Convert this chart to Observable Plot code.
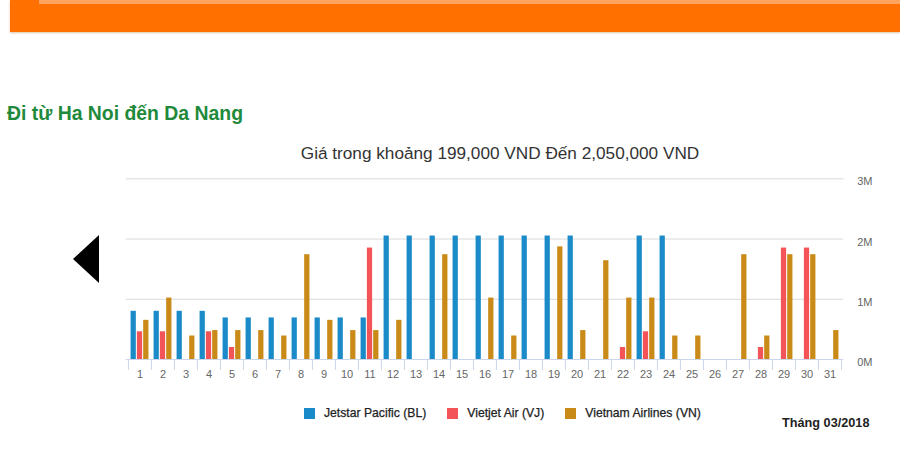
<!DOCTYPE html>
<html>
<head>
<meta charset="utf-8">
<script src="https://cdn.jsdelivr.net/npm/d3@7"></script>
<script src="https://cdn.jsdelivr.net/npm/@observablehq/plot@0.6"></script>
<style>
  html, body { margin: 0; padding: 0; }
  body { width: 900px; height: 471px; position: relative; overflow: hidden; background: #fff; font-family: "Liberation Sans", Arial, sans-serif; }
  #banner { position: absolute; left: 10px; top: 0; width: 890px; height: 32px; background: #ff7000; box-shadow: 0 1px 2px rgba(160,80,0,0.35); }
  #banner-strip { position: absolute; left: 29px; top: 0; right: 0; height: 4px; background: #ffa35f; }
  #heading { position: absolute; left: 7px; top: 102px; margin: 0; font-size: 19.4px; font-weight: bold; color: #1f8a3b; white-space: nowrap; }
  #title { position: absolute; left: 0; width: 1000px; top: 143px; text-align: center; font-size: 17.2px; color: #333; white-space: nowrap; }
  #arrow { position: absolute; left: 73px; top: 235px; width: 0; height: 0; border-top: 24px solid transparent; border-bottom: 24px solid transparent; border-right: 26px solid #000; }
  #chart { position: absolute; left: 0; top: 170px; }
  #legend { position: absolute; top: 405px; left: 304px; display: flex; align-items: center; font-size: 12.2px; line-height: 16px; font-weight: normal; color: #222; white-space: nowrap; -webkit-text-stroke: 0.25px #222; }
  .item { display: flex; align-items: center; margin-right: 21px; }
  .sw { width: 11px; height: 11px; margin-right: 9px; }
  #caption { position: absolute; left: 782px; top: 415px; font-size: 12.7px; line-height: 16px; font-weight: bold; color: #222; white-space: nowrap; }
</style>
</head>
<body>
<div id="banner"><div id="banner-strip"></div></div>
<h2 id="heading">Đi từ Ha Noi đến Da Nang</h2>
<div id="title">Giá trong khoảng 199,000 VND Đến 2,050,000 VND</div>
<div id="arrow"></div>
<div id="chart"></div>
<div id="legend"></div>
<div id="caption">Tháng 03/2018</div>
<script>
// ---- data ----
const days = ["1","2","3","4","5","6","7","8","9","10","11","12","13","14","15","16","17","18","19","20","21","22","23","24","25","26","27","28","29","30","31"];
const seriesNames = ["Jetstar Pacific (BL)", "Vietjet Air (VJ)", "Vietnam Airlines (VN)"];
const seriesColors = ["#1a8ac8", "#f25457", "#c98a17"];
const jetstar = [800000, 800000, 800000, 800000, 690000, 690000, 690000, 690000, 690000, 690000, 690000,
  2050000, 2050000, 2050000, 2050000, 2050000, 2050000, 2050000, 2050000, 2050000,
  null, null, 2050000, 2050000, null, null, null, null, null, null, null];
const vietjet = [460000, 460000, null, 460000, 199000, null, null, null, null, null, 1850000,
  null, null, null, null, null, null, null, null, null, null,
  199000, 460000, null, null, null, null, 199000, 1850000, 1850000, null];
const vietnamAirlines = [650000, 1020000, 390000, 480000, 480000, 480000, 390000, 1740000, 650000, 480000, 480000,
  650000, null, 1740000, null, 1020000, 390000, null, 1870000, 480000, 1640000,
  1020000, 1020000, 390000, 390000, null, 1740000, 390000, 1740000, 1740000, 480000];
const yTicks = [0, 1000000, 2000000, 3000000];
const yTickLabels = ["0M", "1M", "2M", "3M"];

const seriesValues = [jetstar, vietjet, vietnamAirlines];
const tables = seriesValues.map(vals => days.map((d, i) => ({day: d, price: vals[i]})).filter(r => r.price != null));

// ---- layout (style) ----
const W = 900, H = 214;
const mLeft = 125.7, mRight = 56.7, mTop = 8.3, mBottom = 25;
const bw = (W - mLeft - mRight) / days.length;
const barW = 5.4, gap = 0.9;
const groupStart = (bw - (3 * barW + 2 * gap)) / 2;

const bars = tables.map((t, k) => {
  const left = groupStart + k * (barW + gap);
  return Plot.barY(t, {x: "day", y: "price", fill: seriesColors[k], insetLeft: left, insetRight: bw - left - barW});
});

const chart = Plot.plot({
  width: W, height: H,
  marginLeft: mLeft, marginRight: mRight, marginTop: mTop, marginBottom: mBottom,
  style: {fontFamily: "'Liberation Sans', Arial, sans-serif", fontSize: "11px", color: "#666", background: "transparent"},
  x: {type: "band", domain: days, padding: 0},
  y: {domain: [0, 3000000]},
  marks: [
    Plot.ruleY(yTicks.slice(1), {stroke: "#dadada"}),
    ...bars,
    Plot.ruleY([0], {stroke: "#ccd6eb"}),
    Plot.ruleX(days, {x: d => d, y1: 0, y2: 0, insetBottom: -11, dx: -bw / 2, stroke: "#ccd6eb"}),
    Plot.ruleX(days.slice(-1), {x: d => d, y1: 0, y2: 0, insetBottom: -11, dx: bw / 2, stroke: "#ccd6eb"}),
    Plot.axisX({tickSize: 0, tickPadding: 11, label: null, fill: "#666"}),
    Plot.axisY({anchor: "right", ticks: yTicks, tickFormat: (d) => yTickLabels[yTicks.indexOf(d)], tickSize: 0, tickPadding: 13.4, dy: 3, label: null, fill: "#666"})
  ]
});
document.getElementById("chart").appendChild(chart);

const legend = document.getElementById("legend");
seriesNames.forEach((name, k) => {
  const item = document.createElement("div");
  item.className = "item";
  const sw = document.createElement("span");
  sw.className = "sw";
  sw.style.background = seriesColors[k];
  const label = document.createElement("span");
  label.textContent = name;
  item.appendChild(sw);
  item.appendChild(label);
  legend.appendChild(item);
});
</script>
</body>
</html>
